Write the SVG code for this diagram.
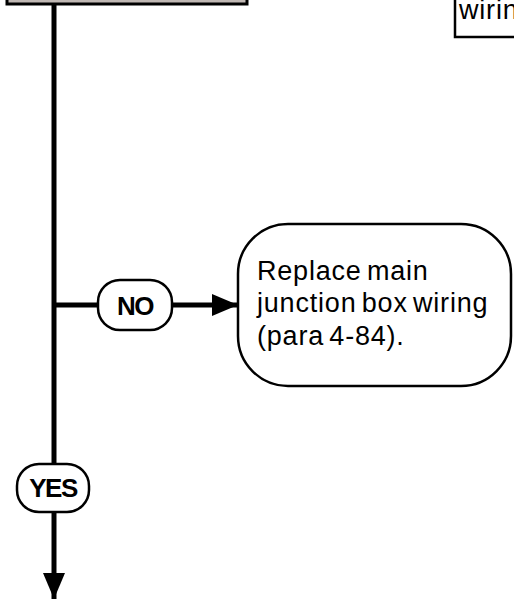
<svg xmlns="http://www.w3.org/2000/svg" width="514" height="600" viewBox="0 0 514 600">
<style>
.body{font-family:"Liberation Sans",Arial,sans-serif;font-size:27px;letter-spacing:0.8px;word-spacing:-3px;fill:#000}
.lbl{font-family:"Liberation Sans",Arial,sans-serif;font-size:26px;font-weight:bold;letter-spacing:-1.5px;fill:#000;text-anchor:middle}
.pill{fill:#fff;stroke:#000;stroke-width:2.5}
.line{stroke:#000;stroke-width:5;fill:none}
</style>
<defs>
<marker id="ah" markerWidth="26" markerHeight="22" refX="26" refY="11" orient="auto" markerUnits="userSpaceOnUse">
<path d="M0,0 L26,11 L0,22 Z" fill="#000"/>
</marker>
</defs>
<g id="top-box">
<rect x="7" y="-20" width="240" height="24" fill="#c0b8b4" stroke="#000" stroke-width="3"/>
</g>
<g id="top-right-box">
<rect x="455" y="-20" width="80" height="57" fill="#fff" stroke="#000" stroke-width="2.5"/>
<text class="body" x="459" y="19">wiring</text>
</g>
<g id="connectors">
<line class="line" x1="54" y1="4" x2="54" y2="465"/>
<line class="line" x1="54" y1="305" x2="98" y2="305"/>
<line class="line" x1="172" y1="305" x2="238" y2="305" marker-end="url(#ah)"/>
<line class="line" x1="54" y1="512" x2="54" y2="599" marker-end="url(#ah)"/>
</g>
<g id="no-label">
<rect class="pill" x="98" y="280" width="74" height="50" rx="22"/>
<text class="lbl" x="135" y="315">NO</text>
</g>
<g id="replace-node">
<rect x="238" y="224" width="273" height="162" rx="50" fill="#fff" stroke="#000" stroke-width="2.5"/>
<text class="body" x="257" y="280">Replace main</text>
<text class="body" x="257" y="312">junction box wiring</text>
<text class="body" x="257" y="345">(para 4-84).</text>
</g>
<g id="yes-label">
<rect class="pill" x="17" y="464" width="72" height="48" rx="22"/>
<text class="lbl" x="53" y="497">YES</text>
</g>
</svg>
